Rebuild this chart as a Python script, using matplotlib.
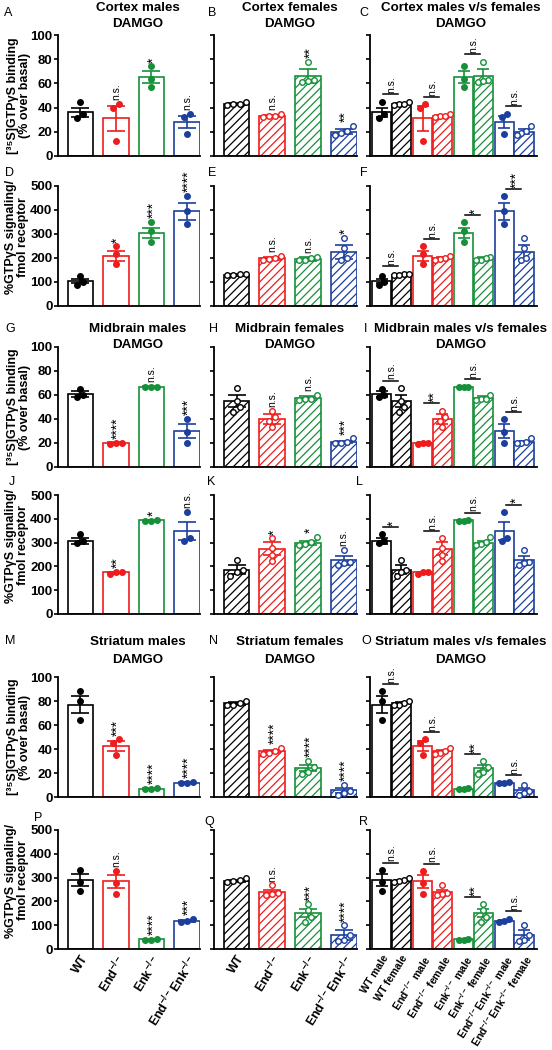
import numpy as np
import matplotlib
matplotlib.use("Agg")
import matplotlib.pyplot as plt

plt.rcParams["font.family"] = ["Liberation Sans", "DejaVu Sans"]
plt.rcParams["mathtext.fontset"] = "custom"
plt.rcParams["mathtext.rm"] = "Liberation Sans:bold"
plt.rcParams["mathtext.default"] = "rm"
plt.rcParams["hatch.linewidth"] = 0.9

# ===== data =====
genotypes = ["WT", r"End$^{-/-}$", r"Enk$^{-/-}$", r"End$^{-/-}$Enk$^{-/-}$"]
pair_labels = ["WT male", "WT female",
               r"End$^{-/-}$ male", r"End$^{-/-}$ female",
               r"Enk$^{-/-}$ male", r"Enk$^{-/-}$ female",
               r"End$^{-/-}$Enk$^{-/-}$ male", r"End$^{-/-}$Enk$^{-/-}$ female"]
colors = ["#000000", "#EE1C1C", "#17903A", "#1C3F9E"]

# Cortex - binding (% over basal)
ctx_bind_m_mean = [36, 31, 65, 28]
ctx_bind_m_sem = [4, 10, 5, 5]
ctx_bind_m_pts = [[45, 35, 31], [43, 40, 12], [74, 64, 57], [35, 32, 18]]
ctx_bind_f_mean = [43, 33, 66, 20]
ctx_bind_f_sem = [1, 1, 6, 2]
ctx_bind_f_pts = [[45, 43, 42, 43], [35, 33, 32, 33], [78, 63, 61, 62], [25, 21, 19, 17]]
ctx_bind_m_sig = ["", "n.s.", "*", "n.s."]
ctx_bind_f_sig = ["", "n.s.", "**", "**"]
ctx_bind_mf_sig = ["n.s.", "n.s.", "n.s.", "n.s."]

# Cortex - signaling / fmol receptor
ctx_sig_m_mean = [104, 208, 304, 395]
ctx_sig_m_sem = [10, 20, 20, 35]
ctx_sig_m_pts = [[125, 100, 88], [248, 215, 175], [350, 312, 265], [458, 395, 340]]
ctx_sig_f_mean = [130, 198, 197, 225]
ctx_sig_f_sem = [3, 8, 8, 30]
ctx_sig_f_pts = [[128, 132, 135, 130], [210, 200, 195, 190], [205, 200, 193, 190], [283, 241, 192, 200]]
ctx_sig_m_sig = ["", "*", "***", "****"]
ctx_sig_f_sig = ["", "n.s.", "n.s.", "*"]
ctx_sig_mf_sig = ["n.s.", "n.s.", "*", "***"]

# Midbrain - binding
mb_bind_m_mean = [61, 20, 67, 30]
mb_bind_m_sem = [2.5, 0.5, 0.5, 6]
mb_bind_m_pts = [[65, 60, 58], [20, 20, 19.5], [67, 67, 67], [40, 29, 20]]
mb_bind_f_mean = [55, 40, 57.5, 21]
mb_bind_f_sem = [5, 4, 1.5, 1]
mb_bind_f_pts = [[66, 55, 50, 46], [47, 42, 38, 33], [60, 57, 56, 57], [24, 21, 20, 20]]
mb_bind_m_sig = ["", "****", "n.s.", "***"]
mb_bind_f_sig = ["", "n.s.", "n.s.", "***"]
mb_bind_mf_sig = ["n.s.", "**", "n.s.", "n.s."]

# Midbrain - signaling
mb_sig_m_mean = [307, 175, 393, 350]
mb_sig_m_sem = [11, 3, 3, 38]
mb_sig_m_pts = [[335, 308, 297], [170, 177, 176], [395, 392, 392], [430, 320, 305]]
mb_sig_f_mean = [186, 274, 300, 225]
mb_sig_f_sem = [20, 28, 8, 20]
mb_sig_f_pts = [[225, 186, 160, 175], [318, 276, 248, 222], [325, 304, 295, 290], [270, 220, 214, 205]]
mb_sig_m_sig = ["", "**", "*", "n.s."]
mb_sig_f_sig = ["", "*", "*", "n.s."]
mb_sig_mf_sig = ["*", "n.s.", "n.s.", "*"]

# Striatum - binding
st_bind_m_mean = [77, 42.5, 7, 12]
st_bind_m_sem = [7, 4, 0.7, 0.4]
st_bind_m_pts = [[88, 80, 64], [48, 45, 35], [7.5, 7, 6.5], [12.5, 12, 11.5]]
st_bind_f_mean = [78, 38, 24, 5.5]
st_bind_f_sem = [1.5, 1.5, 2.5, 2]
st_bind_f_pts = [[80, 78, 77, 77], [41, 38, 37, 36], [30, 25, 21, 19], [10, 5, 3.5, 2]]
st_bind_m_sig = ["", "***", "****", "****"]
st_bind_f_sig = ["", "****", "****", "****"]
st_bind_mf_sig = ["n.s.", "n.s.", "**", "n.s."]

# Striatum - signaling
st_sig_m_mean = [290, 285, 40, 117]
st_sig_m_sem = [27, 28, 3, 5]
st_sig_m_pts = [[333, 281, 242], [329, 276, 232], [44, 38, 36], [128, 118, 115]]
st_sig_f_mean = [287, 239, 153, 58]
st_sig_f_sem = [5, 8, 17, 20]
st_sig_f_pts = [[298, 290, 285, 282], [267, 235, 232, 228], [187, 162, 135, 114], [100, 58, 37, 35]]
st_sig_m_sig = ["", "n.s.", "****", "***"]
st_sig_f_sig = ["", "n.s.", "***", "****"]
st_sig_mf_sig = ["n.s.", "n.s.", "**", "n.s."]

rows = [
    ("Cortex", "bind", ctx_bind_m_mean, ctx_bind_m_sem, ctx_bind_m_pts, ctx_bind_f_mean, ctx_bind_f_sem, ctx_bind_f_pts,
     ctx_bind_m_sig, ctx_bind_f_sig, ctx_bind_mf_sig),
    ("Cortex", "sig", ctx_sig_m_mean, ctx_sig_m_sem, ctx_sig_m_pts, ctx_sig_f_mean, ctx_sig_f_sem, ctx_sig_f_pts,
     ctx_sig_m_sig, ctx_sig_f_sig, ctx_sig_mf_sig),
    ("Midbrain", "bind", mb_bind_m_mean, mb_bind_m_sem, mb_bind_m_pts, mb_bind_f_mean, mb_bind_f_sem, mb_bind_f_pts,
     mb_bind_m_sig, mb_bind_f_sig, mb_bind_mf_sig),
    ("Midbrain", "sig", mb_sig_m_mean, mb_sig_m_sem, mb_sig_m_pts, mb_sig_f_mean, mb_sig_f_sem, mb_sig_f_pts,
     mb_sig_m_sig, mb_sig_f_sig, mb_sig_mf_sig),
    ("Striatum", "bind", st_bind_m_mean, st_bind_m_sem, st_bind_m_pts, st_bind_f_mean, st_bind_f_sem, st_bind_f_pts,
     st_bind_m_sig, st_bind_f_sig, st_bind_mf_sig),
    ("Striatum", "sig", st_sig_m_mean, st_sig_m_sem, st_sig_m_pts, st_sig_f_mean, st_sig_f_sem, st_sig_f_pts,
     st_sig_m_sig, st_sig_f_sig, st_sig_mf_sig),
]

# ===== layout (pixels) =====
W, H = 552, 1050
fig = plt.figure(figsize=(W / 100, H / 100), dpi=100)

col_x = [(58, 200), (214, 357), (370, 537)]
row_y = [(35, 156), (186, 306), (347, 467), (495, 614), (677, 797), (830, 949)]
title_y = {0: (8, 24), 2: (329, 345), 4: (642, 660)}
title_cx = [138, 290, 461]
letter_pos = [[(8, 13), (212, 13), (364, 13)],
              [(10, 173), (212, 173), (364, 173)],
              [(10, 329), (213, 329), (366, 329)],
              [(12, 482), (211, 482), (359, 482)],
              [(10, 641), (213, 641), (366, 641)],
              [(38, 818), (209, 822), (364, 822)]]
letters = "ABCDEFGHIJKLMNOPQR"


def px_axes(x0, x1, y0, y1):
    return fig.add_axes([x0 / W, 1 - y1 / H, (x1 - x0) / W, (y1 - y0) / H])


def spread(vals, ymax, step):
    vals = np.asarray(vals, float)
    order = np.argsort(vals)
    offs = np.zeros(len(vals))
    clusters, cur = [], [order[0]]
    for k in order[1:]:
        if vals[k] - vals[cur[-1]] < 0.05 * ymax:
            cur.append(k)
        else:
            clusters.append(cur)
            cur = [k]
    clusters.append(cur)
    for cl in clusters:
        for j, k in enumerate(cl):
            offs[k] = (j - (len(cl) - 1) / 2) * step
    return offs


def draw_group(ax, x, mean, sem, pts, color, female, width, ymax, cap, step):
    ax.bar(x, mean, width=width, facecolor="white", edgecolor=color, linewidth=1.2,
           hatch="////" if female else None, zorder=2)
    ax.errorbar(x, mean, yerr=sem, fmt="none", ecolor=color, elinewidth=1.2,
                capsize=cap, capthick=1.2, zorder=3)
    offs = spread(pts, ymax, step)
    ax.scatter(x + offs, pts, s=16, facecolor="white" if female else color,
               edgecolor=color, linewidth=1.0, zorder=4, clip_on=False)
    return max(mean + sem, max(pts))


def sig_text(ax, x, y, s):
    if not s:
        return
    star = "*" in s
    ax.text(x + (0.06 if star else 0), y, s, rotation=90, ha="center", va="bottom",
            fontsize=10 if star else 7.5, clip_on=False)


def style_axes(ax, ymax, show_labels):
    for sp in ["top", "right"]:
        ax.spines[sp].set_visible(False)
    for sp in ["left", "bottom"]:
        ax.spines[sp].set_linewidth(1.3)
    ax.set_ylim(0, ymax)
    ticks = np.linspace(0, ymax, 6)
    ax.set_yticks(ticks)
    ax.tick_params(axis="y", length=3, width=1.2, direction="out", labelsize=9.5, pad=1)
    ax.tick_params(axis="x", length=0, pad=3)
    if show_labels:
        ax.set_yticklabels([f"{int(v)}" for v in ticks], fontweight="bold")
    else:
        ax.set_yticklabels([])
    ax.set_xticks([])


for r, (region, kind, mm, ms, mp, fm, fs, fp, msig, fsig, mfsig) in enumerate(rows):
    ymax = 100 if kind == "bind" else 500
    y0, y1 = row_y[r]
    last = r == len(rows) - 1

    # males / females
    for c, (means, sems, pts, sig, female) in enumerate([(mm, ms, mp, msig, False), (fm, fs, fp, fsig, True)]):
        ax = px_axes(*col_x[c], y0, y1)
        style_axes(ax, ymax, c == 0)
        for i in range(4):
            top = draw_group(ax, i, means[i], sems[i], pts[i], colors[i], female, 0.72, ymax, 6.5, 0.17)
            sig_text(ax, i, top + 0.03 * ymax, sig[i])
        ax.set_xlim(-0.63, 3.37)
        if last:
            ax.set_xticks(range(4))
            ax.set_xticklabels(genotypes, rotation=58, ha="right", rotation_mode="anchor",
                               fontsize=9, fontweight="bold")

    # males vs females
    ax = px_axes(*col_x[2], y0, y1)
    style_axes(ax, ymax, False)
    for i in range(4):
        tm = draw_group(ax, i - 0.24, mm[i], ms[i], mp[i], colors[i], False, 0.47, ymax, 4.5, 0.12)
        tf = draw_group(ax, i + 0.24, fm[i], fs[i], fp[i], colors[i], True, 0.47, ymax, 4.5, 0.12)
        ly = max(tm, tf) + 0.06 * ymax
        ax.plot([i - 0.2, i + 0.16], [ly, ly], color="black", lw=1.1, clip_on=False, zorder=5)
        sig_text(ax, i, ly + 0.01 * ymax, mfsig[i])
    ax.set_xlim(-0.53, 3.56)
    if last:
        ax.set_xticks([p for i in range(4) for p in (i - 0.24, i + 0.24)])
        ax.set_xticklabels(pair_labels, rotation=58, ha="right", rotation_mode="anchor",
                           fontsize=7.6, fontweight="bold")

    # y label
    cy = (y0 + y1) / 2
    if kind == "bind":
        fig.text(19 / W, 1 - cy / H, "[³⁵S]GTPγS binding\n(% over basal)", rotation=90,
                 ha="center", va="center", fontsize=9, fontweight="bold",
                 multialignment="center", linespacing=1.0)
    else:
        fig.text(17 / W, 1 - (cy - 9) / H, "%GTPγS signaling/\nfmol receptor", rotation=90,
                 ha="center", va="center", fontsize=9, fontweight="bold",
                 multialignment="center", linespacing=1.0)

    # titles
    if r in title_y:
        t1, t2 = title_y[r]
        heads = [f"{region} males", f"{region} females", f"{region} males v/s females"]
        for c in range(3):
            fig.text(title_cx[c] / W, 1 - t1 / H, heads[c], ha="center", va="center",
                     fontsize=9.6, fontweight="bold")
            fig.text(title_cx[c] / W, 1 - t2 / H, "DAMGO", ha="center", va="center",
                     fontsize=9.6, fontweight="bold")

    # panel letters
    for c in range(3):
        lx, ly_ = letter_pos[r][c]
        fig.text(lx / W, 1 - ly_ / H, letters[3 * r + c], ha="center", va="center", fontsize=9)

plt.savefig("out.png", dpi=100)
